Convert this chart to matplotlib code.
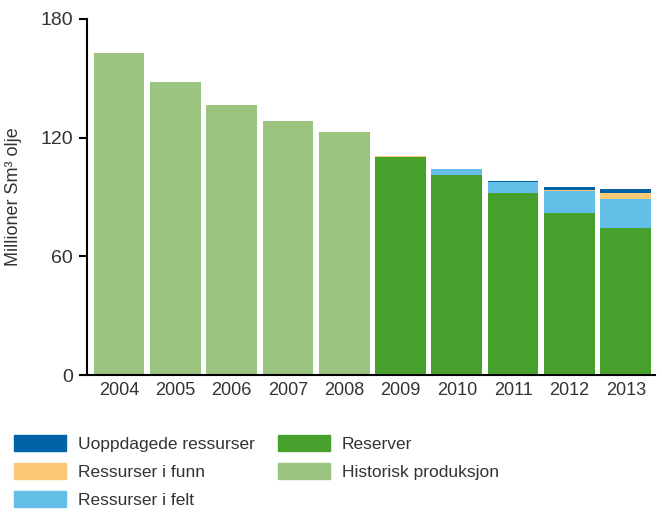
import numpy as np
import matplotlib.pyplot as plt
from matplotlib.patches import Patch

plt.rcParams['font.family'] = ['Liberation Sans', 'DejaVu Sans']

years = ['2004', '2005', '2006', '2007', '2008', '2009', '2010', '2011', '2012', '2013']
historisk = [162.8, 148.1, 136.5, 128.4, 122.9, 0, 0, 0, 0, 0]
reserver = [0, 0, 0, 0, 0, 110.2, 101.1, 92.0, 81.9, 74.3]
res_felt = [0, 0, 0, 0, 0, 0.0, 2.8, 5.6, 11.1, 14.7]
res_funn = [0, 0, 0, 0, 0, 0.6, 0.4, 0.0, 0.7, 3.0]
uoppdagede = [0, 0, 0, 0, 0, 0.0, 0.0, 0.6, 1.5, 2.0]

c_uopp = '#0062a7'
c_funn = '#fbc878'
c_felt = '#63bfe8'
c_res = '#48a02c'
c_hist = '#9bc47f'
txt = '#333333'

fig = plt.figure(figsize=(6.62, 5.13), dpi=100)
ax = fig.add_axes([0.1314, 0.269, 0.858, 0.694])

x = np.arange(len(years))
w = 0.9
ax.bar(x, historisk, w, color=c_hist)
bottom = np.zeros(len(years))
for vals, col in [(reserver, c_res), (res_felt, c_felt), (res_funn, c_funn), (uoppdagede, c_uopp)]:
    ax.bar(x, vals, w, bottom=bottom, color=col)
    bottom += np.array(vals)

ax.set_xlim(-0.57, 9.52)
ax.set_ylim(0, 180)
ax.set_yticks([0, 60, 120, 180])
ax.set_xticks(x)
ax.set_xticklabels(years)
ax.tick_params(axis='y', labelsize=14, length=6, width=1.5, direction='out', pad=4, labelcolor=txt)
ax.tick_params(axis='x', labelsize=13, length=0, pad=5, labelcolor=txt)
for s in ['top', 'right']:
    ax.spines[s].set_visible(False)
ax.spines['left'].set_linewidth(1.5)
ax.spines['bottom'].set_linewidth(1.5)
ax.set_ylabel('Millioner Sm³ olje', fontsize=13, color=txt)
ax.yaxis.set_label_coords(-0.114, 0.5)

handles = [Patch(color=c_uopp), Patch(color=c_funn), Patch(color=c_felt),
           Patch(color=c_res), Patch(color=c_hist)]
labels = ['Uoppdagede ressurser', 'Ressurser i funn', 'Ressurser i felt',
          'Reserver', 'Historisk produksjon']
fig.legend(handles, labels, ncol=2, loc='upper left', bbox_to_anchor=(0.021, 0.152),
           frameon=False, fontsize=12.5, handlelength=3.0, handleheight=1.0,
           labelspacing=0.66, columnspacing=1.3, handletextpad=0.7,
           borderpad=0, borderaxespad=0, labelcolor=txt)

fig.savefig('out.png', dpi=100)
